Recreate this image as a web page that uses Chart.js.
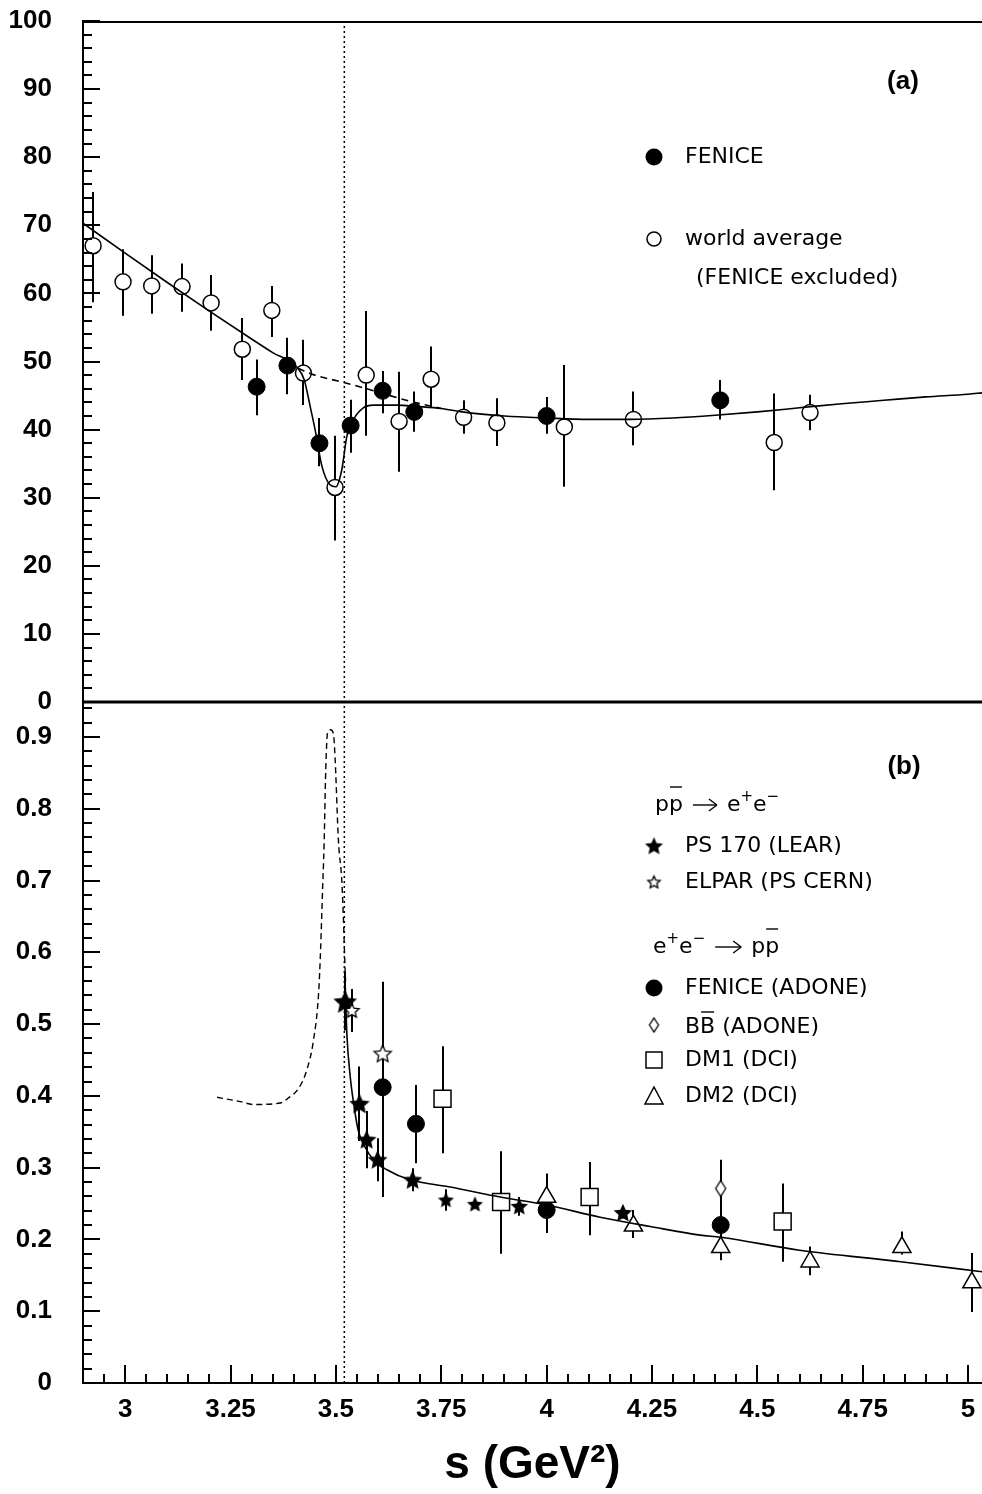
<!DOCTYPE html>
<html>
<head>
<meta charset="utf-8">
<title>Proton form factor vs s</title>
<script src="https://cdn.jsdelivr.net/npm/chart.js"></script>
<style>
  html, body { margin: 0; padding: 0; background: #fff; }
  canvas { display: block; }
</style>
</head>
<body>
<canvas id="plot" width="982" height="1494"></canvas>
<script>
// ---------- panel (a) ----------
const worldS   = [2.924, 2.995, 3.063, 3.135, 3.204, 3.278, 3.348, 3.423, 3.498, 3.572, 3.650, 3.726, 3.803, 3.882, 4.042, 4.206, 4.540, 4.625];
const worldVal = [67.0, 61.7, 61.1, 61.0, 58.6, 51.8, 57.5, 48.3, 31.5, 48.0, 41.2, 47.4, 41.8, 41.0, 40.4, 41.5, 38.1, 42.5];
const worldUp  = [7.9, 4.8, 4.5, 3.4, 4.1, 4.6, 3.6, 4.9, 7.6, 9.4, 7.3, 4.8, 2.5, 3.6, 9.1, 4.1, 7.2, 2.6];
const worldDn  = [8.3, 5.0, 4.1, 3.7, 4.1, 4.5, 3.9, 4.7, 7.8, 8.9, 7.4, 4.2, 2.4, 3.4, 8.8, 3.8, 7.0, 2.6];

const fenAS   = [3.312, 3.385, 3.461, 3.535, 3.611, 3.686, 4.000, 4.412];
const fenAVal = [46.3, 49.4, 38.0, 40.6, 45.7, 42.6, 42.0, 44.3];
const fenAUp  = [4.0, 4.1, 3.7, 3.8, 2.9, 3.0, 2.8, 3.0];
const fenADn  = [4.2, 4.2, 3.4, 4.0, 3.3, 2.9, 2.6, 2.8];

// fit with the dip below threshold, and the smooth curve without it
const fitAS   = [2.9, 3.0, 3.1, 3.2, 3.3, 3.35, 3.41, 3.425, 3.439, 3.451, 3.467, 3.486, 3.50, 3.514, 3.526, 3.541, 3.565, 3.589, 3.645, 3.692, 3.75, 3.8, 3.9, 4.0, 4.1, 4.2, 4.3, 4.4, 4.5, 4.6, 4.7, 4.8, 4.9, 5.0, 5.033];
const fitAVal = [70.3, 65.9, 61.6, 57.4, 53.3, 51.3, 49.0, 47.3, 43.4, 39.9, 34.6, 31.9, 31.6, 34.1, 39.0, 41.4, 43.2, 43.6, 43.6, 43.4, 43.1, 42.6, 42.0, 41.7, 41.5, 41.5, 41.7, 42.1, 42.6, 43.2, 43.8, 44.3, 44.8, 45.2, 45.4];
const bgAS    = [3.41, 3.45, 3.5, 3.55, 3.6, 3.65, 3.7, 3.75];
const bgAVal  = [49.0, 48.0, 47.2, 46.4, 45.5, 44.6, 43.8, 43.1];

// ---------- panel (b) ----------
const ps170S   = [3.522, 3.556, 3.573, 3.599, 3.682, 3.761, 3.830, 3.935, 4.181];
const ps170Val = [0.531, 0.389, 0.339, 0.311, 0.283, 0.255, 0.249, 0.246, 0.237];
const ps170Err = [0.040, 0.052, 0.040, 0.030, 0.016, 0.015, 0.0, 0.013, 0.008];

const elparS   = [3.538, 3.611];
const elparVal = [0.519, 0.459];
const elparErr = [0.03, 0.10];

const fenBS   = [3.611, 3.690, 4.000, 4.413];
const fenBVal = [0.412, 0.361, 0.241, 0.220];
const fenBUp  = [0.10, 0.054, 0.030, 0.030];
const fenBDn  = [0.153, 0.055, 0.032, 0.030];

const bbS   = [4.413];
const bbVal = [0.271];
const bbErr = [0.040];

const dm1S   = [3.753, 3.892, 4.102, 4.560];
const dm1Val = [0.396, 0.252, 0.259, 0.225];
const dm1Up  = [0.073, 0.071, 0.049, 0.053];
const dm1Dn  = [0.076, 0.072, 0.053, 0.056];

const dm2S   = [4.000, 4.206, 4.413, 4.625, 4.843, 5.009];
const dm2Val = [0.259, 0.219, 0.189, 0.169, 0.189, 0.140];
const dm2Up  = [0.033, 0.022, 0.020, 0.021, 0.022, 0.041];
const dm2Dn  = [0.033, 0.017, 0.018, 0.019, 0.010, 0.041];

const fitBS   = [3.522, 3.526, 3.534, 3.542, 3.553, 3.569, 3.589, 3.621, 3.676, 3.771, 3.890, 4.0, 4.127, 4.246, 4.364, 4.413, 4.60, 4.84, 5.033];
const fitBVal = [0.557, 0.487, 0.427, 0.390, 0.352, 0.329, 0.311, 0.297, 0.283, 0.273, 0.259, 0.248, 0.231, 0.218, 0.206, 0.203, 0.185, 0.169, 0.155];
const resBS   = [3.218, 3.273, 3.304, 3.368, 3.387, 3.411, 3.431, 3.447, 3.459, 3.464, 3.468, 3.472, 3.476, 3.480, 3.487, 3.494, 3.498, 3.506, 3.514, 3.518, 3.521, 3.523];
const resBVal = [0.398, 0.392, 0.388, 0.390, 0.397, 0.410, 0.436, 0.478, 0.543, 0.608, 0.680, 0.750, 0.855, 0.905, 0.910, 0.905, 0.872, 0.756, 0.700, 0.645, 0.590, 0.560];

// ---------- axes ----------
const threshold = 3.52;          // 4 M_p^2
const sTicks  = [3, 3.25, 3.5, 3.75, 4, 4.25, 4.5, 4.75, 5];
const yATicks = [0, 10, 20, 30, 40, 50, 60, 70, 80, 90, 100];
const yBTicks = [0, 0.1, 0.2, 0.3, 0.4, 0.5, 0.6, 0.7, 0.8, 0.9];

// ---------- marker images ----------
const FONT = '"Liberation Sans", Arial, Helvetica, sans-serif';
const LEGEND_FONT = '"DejaVu Sans", sans-serif';
Chart.defaults.font.family = FONT;
Chart.defaults.color = '#000';

function starImage(r, filled) {
  const size = Math.ceil(2 * r + 4);
  const c = document.createElement('canvas');
  c.width = c.height = size;
  const g = c.getContext('2d');
  const cx = size / 2, cy = size / 2 + r * 0.08;
  g.beginPath();
  for (let i = 0; i < 10; i++) {
    const rr = i % 2 ? r * 0.47 : r;
    const a = -Math.PI / 2 + i * Math.PI / 5;
    g.lineTo(cx + rr * Math.cos(a), cy + rr * Math.sin(a));
  }
  g.closePath();
  g.fillStyle = filled ? '#000' : '#fff';
  g.fill();
  g.lineWidth = filled ? 1.6 : 1.3;
  g.strokeStyle = '#000';
  g.stroke();
  return c;
}

function diamondImage(w, h) {
  const c = document.createElement('canvas');
  c.width = Math.ceil(w + 4);
  c.height = Math.ceil(h + 4);
  const g = c.getContext('2d');
  const cx = c.width / 2, cy = c.height / 2;
  g.beginPath();
  g.moveTo(cx, cy - h / 2);
  g.lineTo(cx + w / 2, cy);
  g.lineTo(cx, cy + h / 2);
  g.lineTo(cx - w / 2, cy);
  g.closePath();
  g.fillStyle = '#fff';
  g.fill();
  g.lineWidth = 1.3;
  g.strokeStyle = '#000';
  g.stroke();
  return c;
}

const ps170Radius = [10.5, 8.8, 8.4, 8.4, 8.2, 6.5, 6.5, 7.2, 7.8];
const ps170Imgs = ps170Radius.map(r => starImage(r, true));
const elparImgs = [starImage(7.5, false), starImage(9, false)];
const bbImg = diamondImage(10, 16);

const pts = (xs, ys) => xs.map((x, i) => ({ x: x, y: ys[i] }));

// ---------- datasets ----------
const marker = { showLine: false, borderColor: '#000', xAxisID: 'x', order: 1 };
const curve = { showLine: true, pointRadius: 0, borderColor: '#000', borderWidth: 1.6,
                cubicInterpolationMode: 'monotone', xAxisID: 'x', order: 0 };

const datasets = [
  { ...marker, label: 'world average', yAxisID: 'yA', data: pts(worldS, worldVal),
    pointStyle: 'circle', pointRadius: 8, pointBackgroundColor: '#fff', pointBorderWidth: 1.5,
    errUp: worldUp, errDn: worldDn },
  { ...marker, label: 'FENICE', yAxisID: 'yA', data: pts(fenAS, fenAVal),
    pointStyle: 'circle', pointRadius: 8.5, pointBackgroundColor: '#000', pointBorderWidth: 1,
    errUp: fenAUp, errDn: fenADn },
  { ...curve, label: 'fit', yAxisID: 'yA', data: pts(fitAS, fitAVal) },
  { ...curve, label: 'fit without dip', yAxisID: 'yA', data: pts(bgAS, bgAVal), borderDash: [7, 5] },

  { ...marker, label: 'DM1 (DCI)', yAxisID: 'yB', data: pts(dm1S, dm1Val),
    pointStyle: 'rect', pointRadius: 12, pointBackgroundColor: '#fff', pointBorderWidth: 1.5,
    errUp: dm1Up, errDn: dm1Dn },
  { ...marker, label: 'DM2 (DCI)', yAxisID: 'yB', data: pts(dm2S, dm2Val),
    pointStyle: 'triangle', pointRadius: 10.5, pointBackgroundColor: '#fff', pointBorderWidth: 1.5,
    errUp: dm2Up, errDn: dm2Dn },
  { ...marker, label: 'BB (ADONE)', yAxisID: 'yB', data: pts(bbS, bbVal),
    pointStyle: bbImg, pointRadius: 8, errUp: bbErr, errDn: bbErr },
  { ...marker, label: 'ELPAR (PS CERN)', yAxisID: 'yB', data: pts(elparS, elparVal),
    pointStyle: c => elparImgs[c.dataIndex], pointRadius: 8, errUp: elparErr, errDn: elparErr },
  { ...marker, label: 'FENICE (ADONE)', yAxisID: 'yB', data: pts(fenBS, fenBVal),
    pointStyle: 'circle', pointRadius: 8.5, pointBackgroundColor: '#000', pointBorderWidth: 1,
    errUp: fenBUp, errDn: fenBDn },
  { ...marker, label: 'PS 170 (LEAR)', yAxisID: 'yB', data: pts(ps170S, ps170Val),
    pointStyle: c => ps170Imgs[c.dataIndex], pointRadius: 8, errUp: ps170Err, errDn: ps170Err },
  { ...curve, label: 'fit (b)', yAxisID: 'yB', data: pts(fitBS, fitBVal) },
  { ...curve, label: 'resonance', yAxisID: 'yB', data: pts(resBS, resBVal), borderWidth: 1.4, borderDash: [6, 4] }
];

// ---------- drawing helpers ----------
function line(ctx, x1, y1, x2, y2) {
  ctx.beginPath(); ctx.moveTo(x1, y1); ctx.lineTo(x2, y2); ctx.stroke();
}

// a run of text pieces on one baseline; pieces may be raised, overlined or an arrow
function drawRun(ctx, x, y, parts) {
  let cx = x;
  parts.forEach(p => {
    if (p.arrow) {
      ctx.lineWidth = 1.4;
      line(ctx, cx + 4, y - 6, cx + p.arrow + 4, y - 6);
      line(ctx, cx + p.arrow + 4, y - 6, cx + p.arrow - 4, y - 12);
      line(ctx, cx + p.arrow + 4, y - 6, cx + p.arrow - 4, y);
      cx += p.arrow + 14;
      return;
    }
    ctx.font = (p.size || 22) + 'px ' + LEGEND_FONT;
    ctx.fillText(p.t, cx, y + (p.dy || 0));
    const w = ctx.measureText(p.t).width;
    if (p.over) {
      ctx.lineWidth = 1.4;
      const top = y - (p.overY || 22);
      line(ctx, cx + 1, top, cx + w - 1, top);
    }
    cx += w + (p.gap || 0);
  });
}

const frame = {
  id: 'frame',
  beforeDatasetsDraw(chart) {
    const { ctx, chartArea: a, scales } = chart;
    ctx.save();
    ctx.strokeStyle = '#000';
    // threshold line across both panels
    const xt = scales.x.getPixelForValue(threshold);
    ctx.lineWidth = 1.5;
    ctx.setLineDash([2, 3]);
    line(ctx, xt, a.top, xt, a.bottom);
    ctx.setLineDash([]);
    // vertical error bars
    ctx.lineWidth = 2;
    chart.data.datasets.forEach(ds => {
      if (!ds.errUp) return;
      const ys = scales[ds.yAxisID];
      ds.data.forEach((p, i) => {
        const up = ds.errUp[i], dn = ds.errDn[i];
        if (!up && !dn) return;
        const px = Math.round(scales.x.getPixelForValue(p.x));
        line(ctx, px, ys.getPixelForValue(p.y + up), px, ys.getPixelForValue(p.y - dn));
      });
    });
    ctx.restore();
  },
  afterDraw(chart) {
    const { ctx, chartArea: a, scales } = chart;
    const yA = scales.yA, yB = scales.yB, x = scales.x;
    ctx.save();
    ctx.strokeStyle = '#000';
    ctx.fillStyle = '#000';

    // frame top and the panel separator
    ctx.lineWidth = 2;
    line(ctx, a.left, a.top + 1, a.right, a.top + 1);
    ctx.lineWidth = 3;
    const y0 = yA.getPixelForValue(0);
    line(ctx, a.left, y0, a.right, y0);

    // inward tick marks on the left axes
    ctx.lineWidth = 2;
    for (let k = 0; k <= 50; k++) {
      const py = Math.round(yA.getPixelForValue(k * 2));
      line(ctx, a.left, py, a.left + (k % 5 === 0 ? 17 : 9), py);
    }
    for (let k = 1; k * 0.02 <= yB.max; k++) {
      const py = Math.round(yB.getPixelForValue(k * 0.02));
      line(ctx, a.left, py, a.left + (k % 5 === 0 ? 17 : 9), py);
    }
    // ticks on the s axis
    for (let k = 59; k * 0.05 <= x.max; k++) {
      const px = Math.round(x.getPixelForValue(k * 0.05));
      line(ctx, px, a.bottom, px, a.bottom - (k % 5 === 0 ? 18 : 9));
    }

    // panel labels
    ctx.textAlign = 'center';
    ctx.textBaseline = 'middle';
    ctx.font = 'bold 26px ' + FONT;
    ctx.fillText('(a)', 903, 82);
    ctx.fillText('(b)', 904, 767);

    // legend, panel (a)
    ctx.textAlign = 'left';
    ctx.font = '22px ' + LEGEND_FONT;
    ctx.lineWidth = 1.5;
    ctx.beginPath(); ctx.arc(654, 157, 8.5, 0, Math.PI * 2); ctx.fill();
    ctx.fillText('FENICE', 685, 157);
    ctx.beginPath(); ctx.arc(654, 239, 7, 0, Math.PI * 2); ctx.stroke();
    ctx.fillText('world average', 685, 239);
    ctx.fillText('(FENICE excluded)', 696, 278);

    // legend, panel (b)
    ctx.textBaseline = 'alphabetic';
    drawRun(ctx, 655, 811, [
      { t: 'p' }, { t: 'p', over: true, overY: 24, gap: 6 }, { arrow: 24 },
      { t: 'e' }, { t: '+', size: 15, dy: -10 }, { t: 'e' }, { t: '\u2212', size: 15, dy: -10 }
    ]);
    drawRun(ctx, 653, 953, [
      { t: 'e' }, { t: '+', size: 15, dy: -10 }, { t: 'e' }, { t: '\u2212', size: 15, dy: -10, gap: 6 },
      { arrow: 26 }, { t: 'p' }, { t: 'p', over: true, overY: 24 }
    ]);
    ctx.textBaseline = 'middle';
    ctx.font = '22px ' + LEGEND_FONT;
    ctx.drawImage(starImage(7.5, true), 654 - 9.5, 846 - 9.5);
    ctx.fillText('PS 170 (LEAR)', 685, 846);
    ctx.drawImage(starImage(6.5, false), 654 - 8.5, 882 - 8.5);
    ctx.fillText('ELPAR (PS CERN)', 685, 882);

    ctx.beginPath(); ctx.arc(654, 988, 8.5, 0, Math.PI * 2); ctx.fill();
    ctx.fillText('FENICE (ADONE)', 685, 988);
    ctx.drawImage(diamondImage(9, 14), 654 - 6.5, 1025 - 9);
    ctx.textBaseline = 'alphabetic';
    drawRun(ctx, 685, 1033, [{ t: 'B' }, { t: 'B', over: true, overY: 21 }, { t: ' (ADONE)' }]);
    ctx.textBaseline = 'middle';
    ctx.font = '22px ' + LEGEND_FONT;
    ctx.lineWidth = 1.5;
    ctx.strokeRect(646, 1052, 16, 16);
    ctx.fillText('DM1 (DCI)', 685, 1060);
    ctx.beginPath();
    ctx.moveTo(654, 1087); ctx.lineTo(663, 1104); ctx.lineTo(645, 1104); ctx.closePath();
    ctx.stroke();
    ctx.fillText('DM2 (DCI)', 685, 1096);

    ctx.restore();
  }
};

const tickFont = { size: 26, weight: 'bold' };
const noPad = s => { s.paddingTop = 0; s.paddingBottom = 0; s.paddingLeft = 0; s.paddingRight = 0; };

new Chart(document.getElementById('plot'), {
  type: 'scatter',
  data: { datasets: datasets },
  options: {
    responsive: false,
    animation: false,
    devicePixelRatio: 1,
    events: [],
    layout: { autoPadding: false, padding: { top: 21, left: 0, right: 0, bottom: 0 } },
    plugins: { legend: { display: false }, tooltip: { enabled: false } },
    scales: {
      x: {
        type: 'linear', position: 'bottom', min: 2.9, max: 5.033,
        grid: { display: false },
        border: { display: true, color: '#000', width: 2 },
        afterBuildTicks: s => { s.ticks = sTicks.map(v => ({ value: v })); },
        afterFit: s => { s.height = 111; noPad(s); },
        ticks: { autoSkip: false, maxRotation: 0, padding: 3, color: '#000', font: tickFont,
                 callback: v => String(v) },
        title: { display: true, text: 's (GeV\u00b2)', color: '#000',
                 font: { size: 46, weight: 'bold' }, padding: { top: 0, bottom: 1 } }
      },
      // left boxes of one stack are placed bottom-up: lower panel first
      yB: {
        type: 'linear', position: 'left', stack: 'panels', stackWeight: 1, min: 0, max: 0.9487,
        grid: { display: false },
        border: { display: true, color: '#000', width: 2 },
        afterBuildTicks: s => { s.ticks = yBTicks.map(v => ({ value: v })); },
        afterFit: s => { s.width = 83; noPad(s); },
        ticks: { autoSkip: false, padding: 23, color: '#000', font: tickFont,
                 callback: v => (v === 0 ? '0' : v.toFixed(1)) }
      },
      yA: {
        type: 'linear', position: 'left', stack: 'panels', stackWeight: 1, min: 0, max: 100,
        grid: { display: false },
        border: { display: true, color: '#000', width: 2 },
        afterBuildTicks: s => { s.ticks = yATicks.map(v => ({ value: v })); },
        afterFit: s => { s.width = 83; noPad(s); },
        ticks: { autoSkip: false, padding: 23, color: '#000', font: tickFont, callback: v => String(v) }
      }
    }
  },
  plugins: [frame]
});
</script>
</body>
</html>
